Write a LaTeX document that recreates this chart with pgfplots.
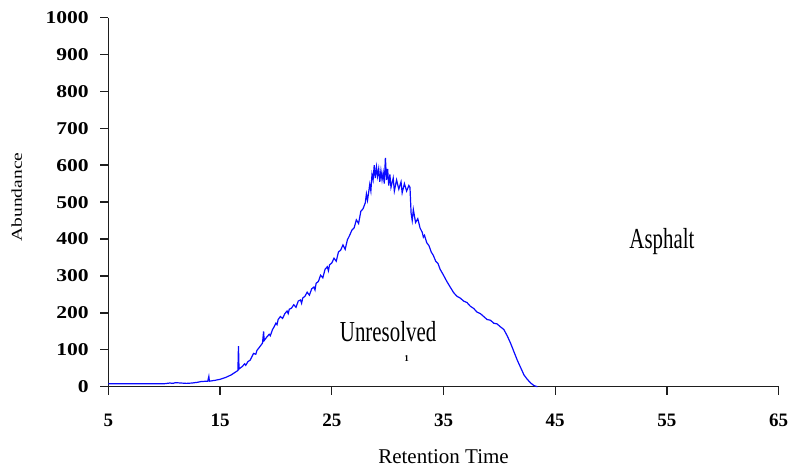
\documentclass[border=0pt]{standalone}
\usepackage{pgfplots}
\pgfplotsset{compat=1.18}
\usepackage{fontspec}
\setmainfont{Liberation Serif}
\definecolor{curveblue}{RGB}{10,10,255}
\definecolor{axgray}{RGB}{30,30,30}
\begin{document}
\begin{tikzpicture}
\useasboundingbox (-108.3pt,-80.3pt) rectangle (680.7pt,386.7pt);
\begin{axis}[
  at={(0pt,0pt)}, anchor=south west,
  scale only axis, width=670.4pt, height=369.2pt,
  xmin=5, xmax=65, ymin=0, ymax=1000,
  axis x line*=bottom, axis y line*=left,
  axis line style={axgray, line width=1.2pt},
  xtick={5,15,25,35,45,55,65},
  xticklabels={5,15,25,35,45,55,65},
  ytick={0,100,200,300,400,500,600,700,800,900,1000},
  yticklabels={
    \scalebox{1.2}[1]{0},\scalebox{1.2}[1]{100},\scalebox{1.2}[1]{200},
    \scalebox{1.2}[1]{300},\scalebox{1.2}[1]{400},\scalebox{1.2}[1]{500},
    \scalebox{1.2}[1]{600},\scalebox{1.2}[1]{700},\scalebox{1.2}[1]{800},
    \scalebox{1.2}[1]{900},\scalebox{1.2}[1]{1000}},
  xtick align=outside, ytick align=outside,
  major tick length=8pt,
  every tick/.append style={axgray, line width=1.2pt},
  x tick label style={font=\fontsize{19}{22}\selectfont\bfseries, anchor=center, yshift=-26pt},
  y tick label style={font=\fontsize{18}{20}\selectfont\bfseries, anchor=east, xshift=-8pt},
  clip=false,
]
\addplot[curveblue, line width=1.2pt] coordinates {
(5,8) (8,8) (10,8) (10.5,10) (10.8,9) (11,11) (11.5,10) (12,9) (12.5,10) (13,12)
(13.3,14) (13.9,15) (14,28) (14.05,15) (14.5,17) (15,20) (15.5,25) (16,32) (16.5,42) (16.6,44)
(16.65,110) (16.7,48) (17,55) (17.2,62) (17.3,58) (17.5,68) (17.7,72) (17.8,78) (18,90) (18.2,88) (18.3,98) (18.6,110) (18.8,118)
(18.9,150) (18.95,125) (19.2,135) (19.4,142) (19.5,138) (19.7,155) (19.8,160) (20,172) (20.1,168) (20.2,182) (20.4,190) (20.6,185) (20.8,198)
(21,205) (21.1,198) (21.2,210) (21.4,213) (21.6,222) (21.8,215) (22,232) (22.2,235) (22.3,226) (22.4,240) (22.6,245) (22.8,256)
(23,248) (23.2,265) (23.4,270) (23.5,262) (23.6,280) (23.8,285) (24,302) (24.2,295) (24.4,318) (24.6,325) (24.7,314) (24.8,330)
(25,335) (25.2,348) (25.4,340) (25.6,365) (25.8,370) (26,384) (26.2,372) (26.4,398) (26.6,410) (26.8,424)
(27,430) (27.2,452) (27.4,442) (27.6,475) (27.8,482) (28,498) (28.1,522) (28.2,505) (28.4,548) (28.5,530)
(28.6,575) (28.7,560) (28.8,600) (28.9,565) (29,595) (29.1,570) (29.2,590) (29.3,555) (29.4,585) (29.5,560)
(29.6,580) (29.7,550) (29.8,620) (29.9,560) (30,590) (30.1,545) (30.2,575) (30.3,540) (30.5,565) (30.6,530)
(30.8,560) (31,535) (31.2,555) (31.3,525) (31.5,550) (31.7,530) (31.9,545) (32,540) (32.1,470) (32.2,450)
(32.3,480) (32.5,445) (32.7,455) (32.9,430) (33.1,418) (33.2,405) (33.3,410) (33.5,390) (33.7,382) (33.9,365) (34.1,355)
(34.3,340) (34.5,334) (34.7,318) (35,302) (35.3,285) (35.6,270) (35.9,255) (36.2,245) (36.5,240) (36.8,232)
(37.1,228) (37.4,218) (37.7,212) (38,202) (38.3,198) (38.6,190) (38.9,182) (39.2,180) (39.5,172) (39.8,170)
(40.1,162) (40.4,155) (40.7,138) (41,118) (41.3,95) (41.6,72) (41.9,52) (42.2,32) (42.5,20) (42.8,10)
(43.1,3) (43.4,0)
};
\pgfplotsinvokeforeach{5,15,25,35,45,55,65}{
  \draw[axgray, line width=1.4pt] (axis cs:#1,0) -- (axis cs:#1,-21.7);
}
\pgfplotsinvokeforeach{0,100,200,300,400,500,600,700,800,900,1000}{
  \draw[axgray, line width=1.4pt] (axis cs:5,#1) -- (axis cs:4.28,#1);
}
\node[anchor=base, font=\fontsize{29}{32}\selectfont, inner sep=0pt] at (axis cs:54.55,375) {\scalebox{0.72}[1]{Asphalt}};
\node[anchor=base, font=\fontsize{29}{32}\selectfont, inner sep=0pt] at (axis cs:30.04,122) {\scalebox{0.72}[1]{Unresolved}};
\node[anchor=center, font=\fontsize{9}{10}\selectfont\bfseries, inner sep=0pt] at (axis cs:31.7,75) {1};
\node[anchor=base, font=\fontsize{21}{24}\selectfont, inner sep=0pt] at (axis cs:35,-207) {Retention Time};
\node[anchor=center, rotate=90, font=\fontsize{15}{17}\selectfont, inner sep=0pt] at (axis cs:-3.2,514) {\scalebox{1.3}[1]{Abundance}};
\end{axis}
\end{tikzpicture}
\end{document}
